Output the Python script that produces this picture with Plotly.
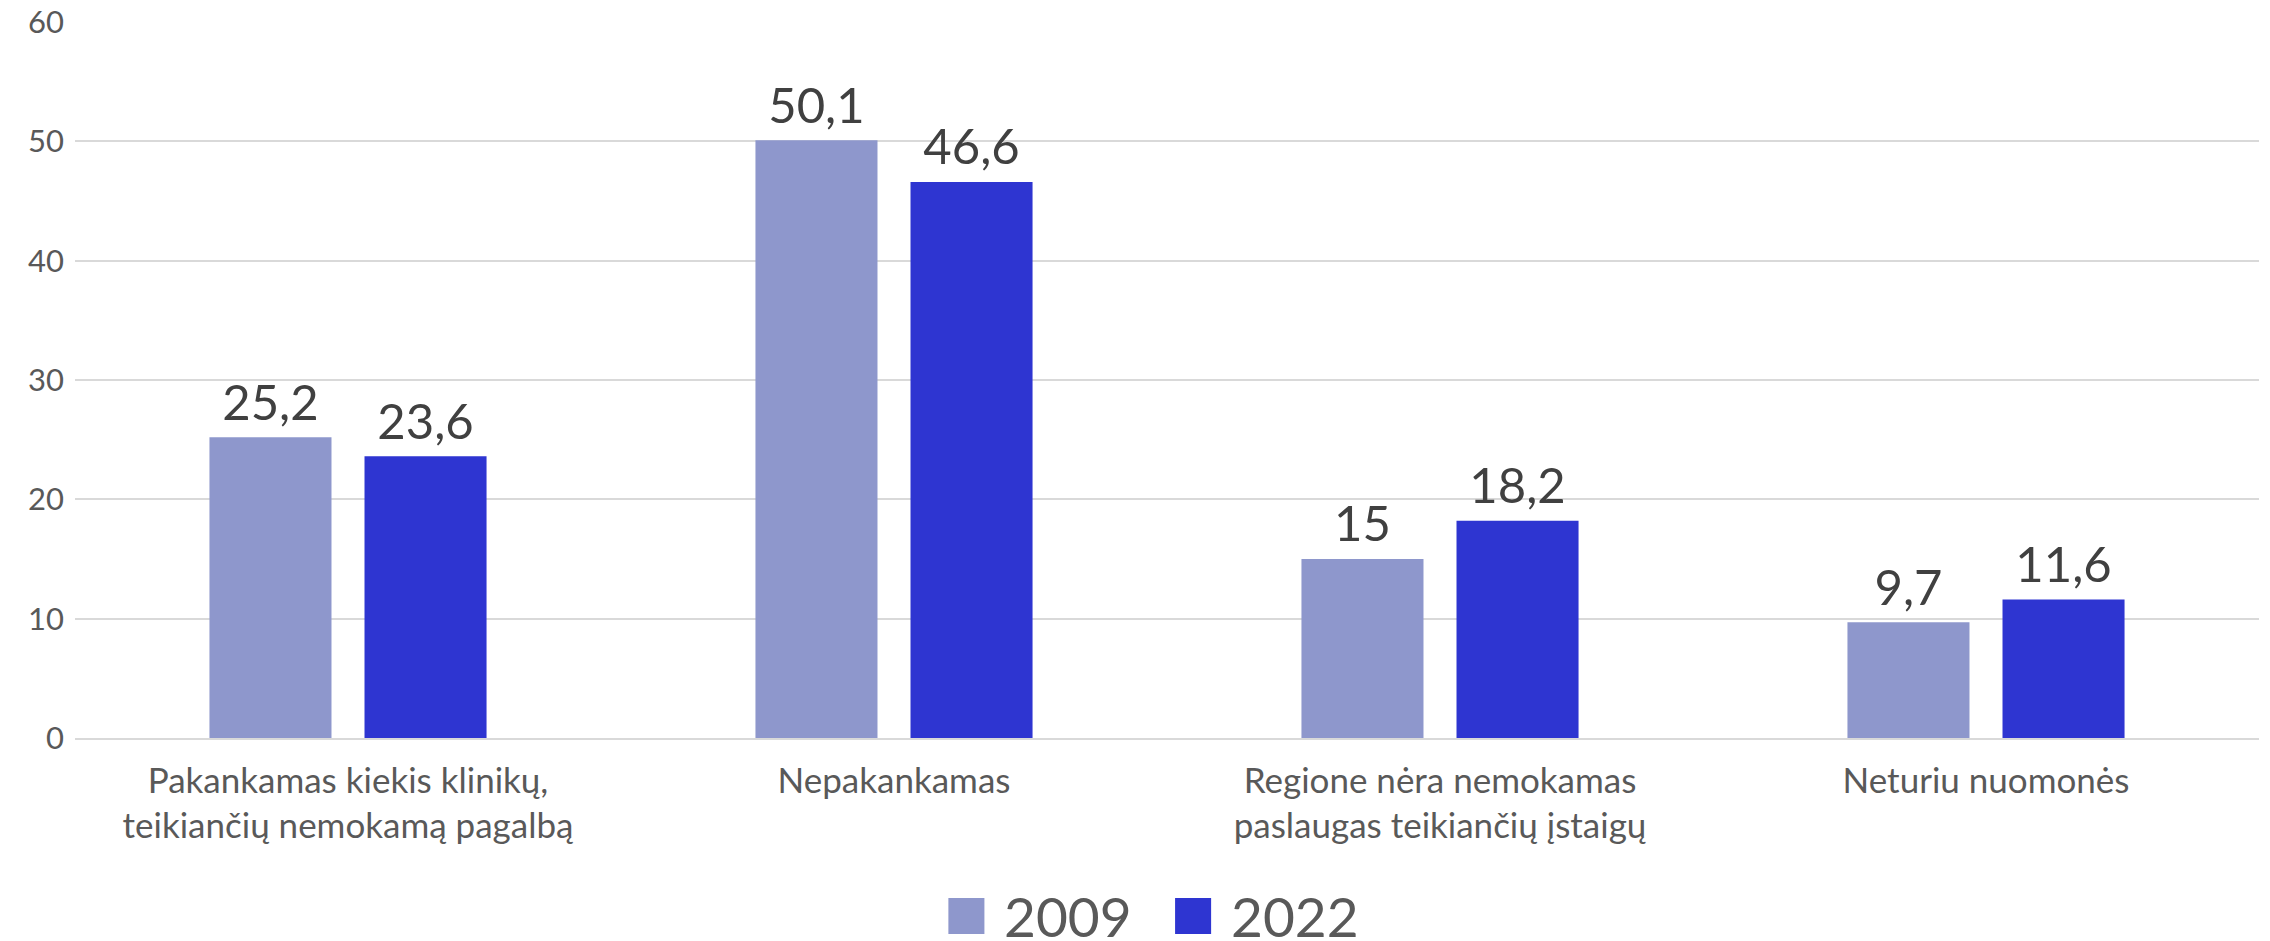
import plotly.graph_objects as go

categories = [
    "Pakankamas kiekis klinikų,<br>teikiančių nemokamą pagalbą",
    "Nepakankamas",
    "Regione nėra nemokamas<br>paslaugas teikiančių įstaigų",
    "Neturiu nuomonės",
]
years = ["2009", "2022"]
values_2009 = [25.2, 50.1, 15, 9.7]
values_2022 = [23.6, 46.6, 18.2, 11.6]
colors = ["#8E97CC", "#2E35D1"]

FONT = "Lato, 'Noto Sans', sans-serif"

fig = go.Figure()
for name, vals, col in zip(years, [values_2009, values_2022], colors):
    fig.add_trace(go.Bar(
        x=categories,
        y=vals,
        name=name,
        offsetgroup=name,
        marker=dict(color=col, line=dict(width=0)),
        showlegend=False,
        hoverinfo="skip",
    ))

# value labels above the bars
for name, vals in zip(years, [values_2009, values_2022]):
    fig.add_trace(go.Scatter(
        x=categories,
        y=vals,
        offsetgroup=name,
        mode="markers+text",
        text=[f"{v:g}".replace(".", ",") for v in vals],
        textposition="top center",
        textfont=dict(size=49, color="#404040", family=FONT),
        marker=dict(size=7, color="rgba(0,0,0,0)"),
        cliponaxis=False,
        showlegend=False,
        hoverinfo="skip",
    ))

# legend drawn by hand so the squares match the large text
legend_x = [0.3999, 0.5037]
for lx, name, col in zip(legend_x, years, colors):
    fig.add_shape(type="rect", xref="paper", yref="paper",
                  x0=lx, x1=lx + 0.0165, y0=-0.2737, y1=-0.2235,
                  fillcolor=col, line=dict(width=0))
    fig.add_annotation(x=lx + 0.0245, y=-0.2486, xref="paper", yref="paper",
                       text=name, showarrow=False, xanchor="left", yanchor="middle",
                       font=dict(size=55, color="#595959", family=FONT))

# page body keeps an 8px margin, so the figure is 8px smaller each way
fig.update_layout(
    width=2262, height=933,
    margin=dict(l=67, r=11, t=14, b=203),
    paper_bgcolor="white", plot_bgcolor="white",
    barmode="group", bargap=0.432, bargroupgap=0.213,
    scattermode="group", scattergap=0.432,
    font=dict(family=FONT, color="#595959"),
)
fig.update_xaxes(
    showline=True, linecolor="#D9D9D9", linewidth=1.5, automargin=False,
    ticks="", tickfont=dict(size=35, color="#595959"), ticklabelstandoff=11,
)
fig.update_yaxes(
    range=[0, 60], dtick=10, showgrid=True, gridcolor="#D9D9D9", gridwidth=1.5,
    zeroline=False, ticks="", tickfont=dict(size=31, color="#595959"),
    ticklabelstandoff=10, automargin=False, ticklabeloverflow="allow",
)

fig.write_html("out.html")
